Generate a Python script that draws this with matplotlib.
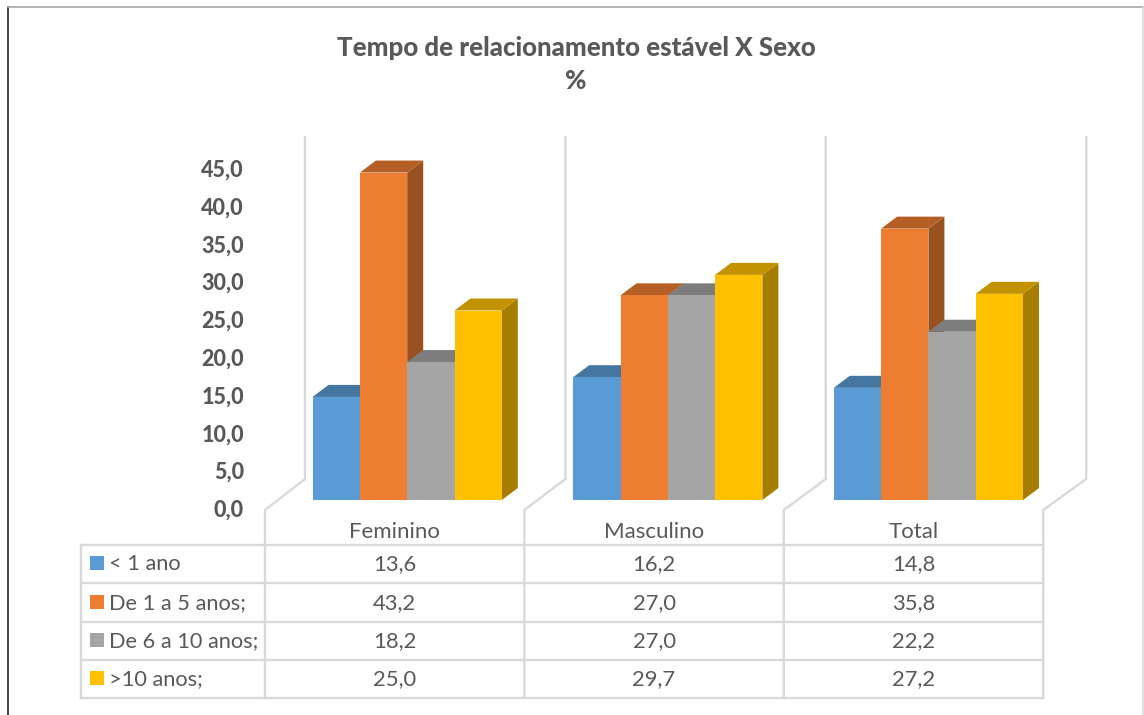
import numpy as np
from matplotlib import pyplot as plt
from matplotlib.colors import to_rgb
from matplotlib.patches import Polygon, Rectangle

plt.rcParams['font.family'] = ['Lato', 'DejaVu Sans']

categories = ['Feminino', 'Masculino', 'Total']
series_names = ['< 1 ano', 'De 1 a 5 anos;', 'De 6 a 10 anos;', '>10 anos;']
menos_1 = [13.6, 16.2, 14.8]
de_1_5 = [43.2, 27.0, 35.8]
de_6_10 = [18.2, 27.0, 22.2]
mais_10 = [25.0, 29.7, 27.2]
series = [menos_1, de_1_5, de_6_10, mais_10]
colors = ['#5B9BD5', '#ED7D31', '#A5A5A5', '#FFC000']
ticks = [0, 5, 10, 15, 20, 25, 30, 35, 40, 45]

W, H = 1144, 715
GREY = '#595959'
LINE = '#D9D9D9'

# layout in pixels
x0, step = 407.2, 260.6      # centre of first group, group spacing
y0, ppu = 500.0, 7.58        # bar base, pixels per unit
bar_px = 47.3
dx_px, dy_px = 16.0, 12.0    # depth of the bars

fig = plt.figure(figsize=(W / 100, H / 100), dpi=100)

# overlay in pixel coords for frame, walls, table
ov = fig.add_axes([0, 0, 1, 1], zorder=1)
ov.set_xlim(0, W)
ov.set_ylim(H, 0)
ov.axis('off')

# bars axes: x is category index, y is percent
ax = fig.add_axes([0, 0, 1, 1], zorder=2)
ax.set_xlim(-x0 / step, (W - x0) / step)
ax.set_ylim(-(H - y0) / ppu, y0 / ppu)
ax.axis('off')
ax.patch.set_alpha(0)

# picture frame
ov.plot([8, 8], [7, H], color='#222222', lw=1.2)
ov.plot([8, W], [7, 7], color='#A6A6A6', lw=1.2)
ov.plot([1143, 1143], [7, H], color='#D9D9D9', lw=1.2)

# walls and floor steps
for i in range(4):
    xb = 305 + 260.4 * i
    xf = 265 + 259.4 * i
    ov.plot([xb, xb, xf, xf], [137, 479, 510, 698], color=LINE, lw=1.7,
            solid_joinstyle='miter')

# table grid
rows_y = [545, 583, 622, 660, 698]
cols_x = [81, 265, 524, 784, 1043]
for y in rows_y:
    ov.plot([cols_x[0], cols_x[-1]], [y, y], color=LINE, lw=1.7)
ov.plot([cols_x[0], cols_x[0]], [rows_y[0], rows_y[-1]], color=LINE, lw=1.7)

# bars, left to right so each one covers the side of the previous
bw = bar_px / step
dx, dy = dx_px / step, dy_px / ppu
z = 3
for c in range(len(categories)):
    for s, vals in enumerate(series):
        v = vals[c]
        left = c + (s - 2) * bw
        rgb = np.array(to_rgb(colors[s]))
        top_c = rgb * 0.76
        side_c = rgb * 0.65
        ax.add_patch(Polygon([(left + bw, 0), (left + bw + dx, dy), (left + bw + dx, v + dy), (left + bw, v)],
                             facecolor=side_c, edgecolor='none', zorder=z))
        ax.add_patch(Polygon([(left, v), (left + dx, v + dy), (left + bw + dx, v + dy), (left + bw, v)],
                             facecolor=top_c, edgecolor='none', zorder=z))
        ax.bar(left, v, width=bw, align='edge', color=colors[s], zorder=z + 1)
        z += 2

# value axis labels
for t in ticks:
    y = 510.3 - t * 340 / 45
    ov.text(244, y, f'{t:.1f}'.replace('.', ','), ha='right', va='center',
            fontsize=15.5, fontweight=900, color=GREY)

# category labels and values
for c, name in enumerate(categories):
    cx = (cols_x[c + 1] + cols_x[c + 2]) / 2
    ov.text(cx, 532, name, ha='center', va='center', fontsize=16, color=GREY)
    for s, vals in enumerate(series):
        ym = (rows_y[s] + rows_y[s + 1]) / 2
        ov.text(cx, ym + 0.5, f'{vals[c]:.1f}'.replace('.', ','), ha='center', va='center',
                fontsize=15.8, color=GREY)

# legend keys in first column
for s, name in enumerate(series_names):
    ym = (rows_y[s] + rows_y[s + 1]) / 2
    ov.add_patch(Rectangle((90, ym - 8), 14, 14, facecolor=colors[s], edgecolor='none'))
    ov.text(109, ym + 0.5, name, ha='left', va='center', fontsize=15.7, color=GREY)

ov.text(576, 48, 'Tempo de relacionamento estável X Sexo', ha='center', va='center',
        fontsize=18.6, fontweight=900, color=GREY)
ov.text(576, 81, '%', ha='center', va='center', fontsize=18.6, fontweight=900, color=GREY)

fig.savefig('out.png', dpi=100)
